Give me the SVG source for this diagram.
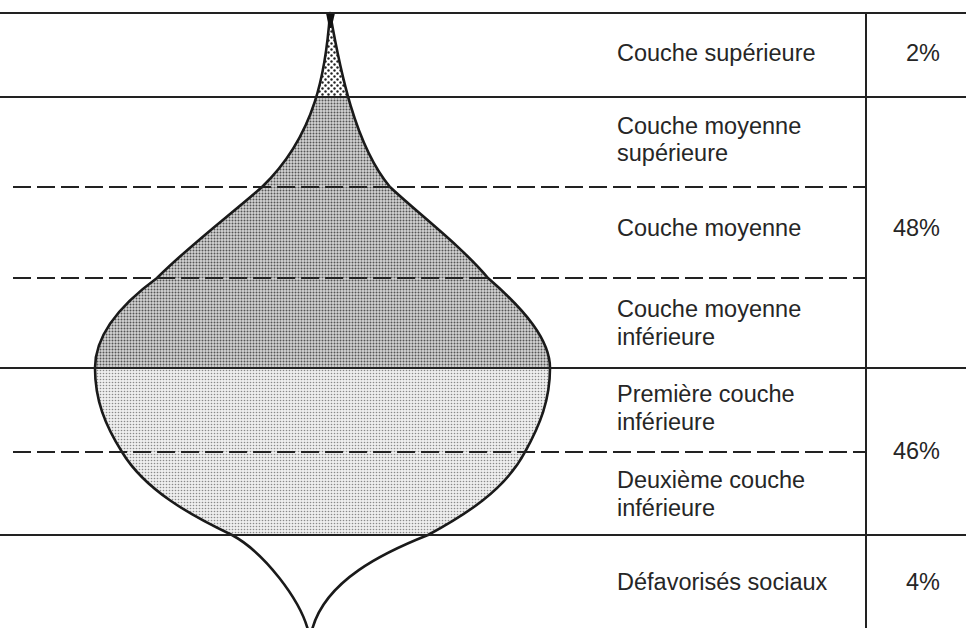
<svg xmlns="http://www.w3.org/2000/svg" width="973" height="628" viewBox="0 0 973 628">
  <style>
    .solid { stroke: #222; stroke-width: 2; fill: none; }
    .dash { stroke: #222; stroke-width: 2; fill: none; stroke-dasharray: 18 6; }
    .outline { stroke: #1a1a1a; stroke-width: 2.6; fill: none; stroke-linejoin: round; }
    .lbl { font-family: "Liberation Sans", Arial, sans-serif; font-size: 23.5px; fill: #262626; }
    .pct { font-family: "Liberation Sans", Arial, sans-serif; font-size: 23.5px; fill: #262626; text-anchor: end; }
  </style>
  <defs>
    <pattern id="coarse" patternUnits="userSpaceOnUse" width="6" height="6">
      <rect width="6" height="6" fill="#fff"/>
      <circle cx="1.5" cy="1.5" r="1.2" fill="#222"/>
      <circle cx="4.5" cy="4.5" r="1.2" fill="#222"/>
    </pattern>
    <pattern id="mid" patternUnits="userSpaceOnUse" width="3" height="3">
      <rect width="3" height="3" fill="#d4d4d4"/>
      <circle cx="1.5" cy="1.5" r="1" fill="#555"/>
    </pattern>
    <pattern id="low" patternUnits="userSpaceOnUse" width="3" height="3">
      <rect width="3" height="3" fill="#eeeeee"/>
      <circle cx="1.5" cy="1.5" r="0.8" fill="#8a8a8a"/>
    </pattern>
    <clipPath id="onion">
      <path d="M330,13 C340,70 355,145 390,187 C420,215 460,245 488,278 C525,310 550,340 550,368 C550,400 540,425 525,452 C505,490 465,515 428,535 C385,552 325,580 312,630 L308,630 C300,600 265,553 232,535 C190,515 145,490 122,452 C105,425 95,400 95,368 C95,335 120,305 157,278 C190,245 230,215 262,187 C316,135 326,70 330,13 Z"/>
    </clipPath>
  </defs>

  <rect width="973" height="628" fill="#fff"/>

  <g id="shape">
    <g clip-path="url(#onion)">
      <rect x="0" y="13" width="700" height="84" fill="url(#coarse)"/>
      <rect x="0" y="97" width="700" height="271" fill="url(#mid)"/>
      <rect x="0" y="368" width="700" height="167" fill="url(#low)"/>
    </g>
    <path class="outline" d="M308,630 C300,600 265,553 232,535 C190,515 145,490 122,452 C105,425 95,400 95,368 C95,335 120,305 157,278 C190,245 230,215 262,187 C316,135 326,70 330,13 C340,70 355,145 390,187 C420,215 460,245 488,278 C525,310 550,340 550,368 C550,400 540,425 525,452 C505,490 465,515 428,535 C385,552 325,580 312,630"/>
    <path d="M326,13 L335,13 L331.5,28 L329,28 Z" fill="#111"/>
  </g>

  <g id="connectors">
    <line class="solid" x1="0" y1="13" x2="966" y2="13"/>
    <line class="solid" x1="0" y1="97" x2="966" y2="97"/>
    <line class="dash" x1="13" y1="187" x2="866" y2="187"/>
    <line class="dash" x1="13" y1="278" x2="866" y2="278"/>
    <line class="solid" x1="0" y1="368" x2="966" y2="368"/>
    <line class="dash" x1="13" y1="452" x2="866" y2="452"/>
    <line class="solid" x1="0" y1="535" x2="966" y2="535"/>
    <line class="solid" x1="866" y1="13" x2="866" y2="628"/>
  </g>

  <g id="label-superieure"><text class="lbl" x="617" y="61">Couche supérieure</text></g>
  <g id="label-moyenne-sup"><text class="lbl" x="617" y="134">Couche moyenne</text><text class="lbl" x="617" y="161">supérieure</text></g>
  <g id="label-moyenne"><text class="lbl" x="617" y="236">Couche moyenne</text></g>
  <g id="label-moyenne-inf"><text class="lbl" x="617" y="317">Couche moyenne</text><text class="lbl" x="617" y="345">inférieure</text></g>
  <g id="label-premiere"><text class="lbl" x="617" y="402">Première couche</text><text class="lbl" x="617" y="430">inférieure</text></g>
  <g id="label-deuxieme"><text class="lbl" x="617" y="488">Deuxième couche</text><text class="lbl" x="617" y="516">inférieure</text></g>
  <g id="label-defavorises"><text class="lbl" x="617" y="590">Défavorisés sociaux</text></g>

  <g id="pct-2"><text class="pct" x="940" y="61">2%</text></g>
  <g id="pct-48"><text class="pct" x="940" y="236">48%</text></g>
  <g id="pct-46"><text class="pct" x="940" y="459">46%</text></g>
  <g id="pct-4"><text class="pct" x="940" y="590">4%</text></g>
</svg>
